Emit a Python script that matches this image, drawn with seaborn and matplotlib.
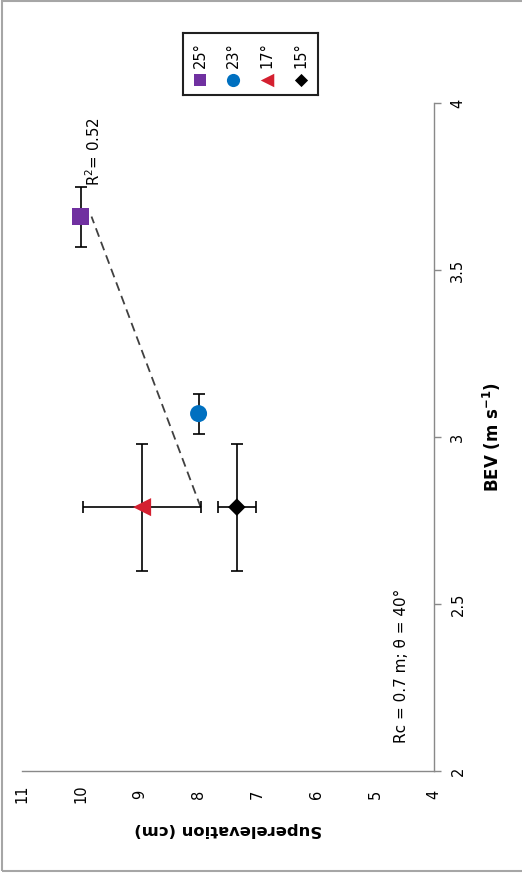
import numpy as np
import pandas as pd
import matplotlib
matplotlib.use("Agg")
import matplotlib.pyplot as plt
import seaborn as sns
from matplotlib.patches import Rectangle

# ---- data ----
angles = ["25°", "23°", "17°", "15°"]
superelevation = [10.0, 8.0, 8.96, 7.35]      # cm
se_err = [0.0, 0.0, 1.0, 0.32]
bev = [3.66, 3.07, 2.79, 2.79]                # m/s
bev_err = [0.09, 0.06, 0.19, 0.19]
colors = ["#7030A0", "#0070C0", "#D42030", "#000000"]
markers = ["s", "o", "<", "D"]
sizes = [150, 150, 170, 80]
se_ticks = [4, 5, 6, 7, 8, 9, 10, 11]
bev_ticks = [2, 2.5, 3, 3.5, 4]
bev_ticklabels = ["2", "2.5", "3", "3.5", "4"]
r2_label = "R$^2$= 0.52"
note = "Rc = 0.7 m; θ = 40°"

df = pd.DataFrame({"angle": angles, "se": superelevation, "bev": bev})

sns.set_style("white")
plt.rcParams["font.family"] = ["DejaVu Sans"]
plt.rcParams["mathtext.fontset"] = "dejavusans"
plt.rcParams["text.color"] = "black"
plt.rcParams["axes.labelcolor"] = "black"

W, H = 522, 876
fig = plt.figure(figsize=(W / 100, H / 100), dpi=100)
ax = fig.add_axes([22 / W, 1 - 771 / H, (434 - 22) / W, (771 - 103) / H])

# regression line (superelevation on BEV)
coef = np.polyfit(bev, superelevation, 1)
bev_line = np.array([min(bev), max(bev)])
ax.plot(np.polyval(coef, bev_line), bev_line, ls=(0, (5, 3)), color="#404040",
        lw=1.3, zorder=1)

# error bars
for x, y, xe, ye in zip(superelevation, bev, se_err, bev_err):
    ax.errorbar(x, y, xerr=(xe if xe > 0 else None), yerr=ye, fmt="none",
                ecolor="black", elinewidth=1.2, capsize=4, capthick=1.2, zorder=2)

sns.scatterplot(data=df, x="se", y="bev", hue="angle", style="angle", size="angle",
                palette=dict(zip(angles, colors)), markers=dict(zip(angles, markers)),
                sizes=dict(zip(angles, sizes)), linewidth=0, legend=False, ax=ax,
                zorder=3)

ax.set_xlim(11, 4)
ax.set_ylim(2, 4)
ax.set_xticks(se_ticks)
ax.set_xticklabels([str(t) for t in se_ticks], rotation=90, fontsize=10.5)
ax.set_yticks(bev_ticks)
ax.set_yticklabels(bev_ticklabels, rotation=90, fontsize=10.5)
ax.yaxis.tick_right()
for s in ["top", "left"]:
    ax.spines[s].set_visible(False)
for s in ["bottom", "right"]:
    ax.spines[s].set_color("#898989")
    ax.spines[s].set_linewidth(1.0)
ax.tick_params(axis="both", direction="out", length=5, width=1.0, color="#898989",
               labelcolor="black")
ax.tick_params(axis="x", pad=11.5)
ax.tick_params(axis="y", pad=12.2)
for lab in ax.get_xticklabels():
    lab.set_va("center")
for lab in ax.get_yticklabels():
    lab.set_ha("center")
    lab.set_va("center")

ax.set_xlabel("Superelevation (cm)", fontsize=11.8, fontweight="bold", rotation=180)
ax.xaxis.set_label_coords(0.5, (771 - 829) / 668)
ax.xaxis.label.set_va("center")
ax.set_ylabel(r"BEV (m s$^{\mathbf{-1}}$)", fontsize=12, fontweight="bold", rotation=90)
ax.yaxis.set_label_position("right")
ax.yaxis.set_label_coords((492 - 22) / 412, 0.5)
ax.yaxis.label.set_va("center")
ax.yaxis.label.set_ha("center")

ax.text(9.78, 3.856, r2_label, rotation=90, fontsize=10.8, ha="center", va="center")
ax.text(4.544, 2.314, note, rotation=90, fontsize=11, ha="center", va="center")

# legend box
lax = fig.add_axes([183 / W, 1 - 95 / H, 135 / W, 62 / H])
lax.set_xlim(0, 1)
lax.set_ylim(0, 1)
lax.set_xticks([])
lax.set_yticks([])
for s in lax.spines.values():
    s.set_color("#202020")
    s.set_linewidth(1.5)
leg_x = [0.126, 0.37, 0.622, 0.874]
leg_sizes = [75, 90, 95, 45]
for lx, lab, c, m, sz in zip(leg_x, angles, colors, markers, leg_sizes):
    lax.scatter([lx], [0.24], marker=m, s=sz, color=c, linewidths=0)
    lax.text(lx, 0.645, lab, rotation=90, fontsize=10.5, ha="center", va="center")

# outer border
fig.patches.append(Rectangle((2 / W, 1 - 871 / H), 1.2, 870 / H, transform=fig.transFigure,
                             fill=False, ec="#A6A6A6", lw=1.5))

fig.savefig("out.png", dpi=100)
